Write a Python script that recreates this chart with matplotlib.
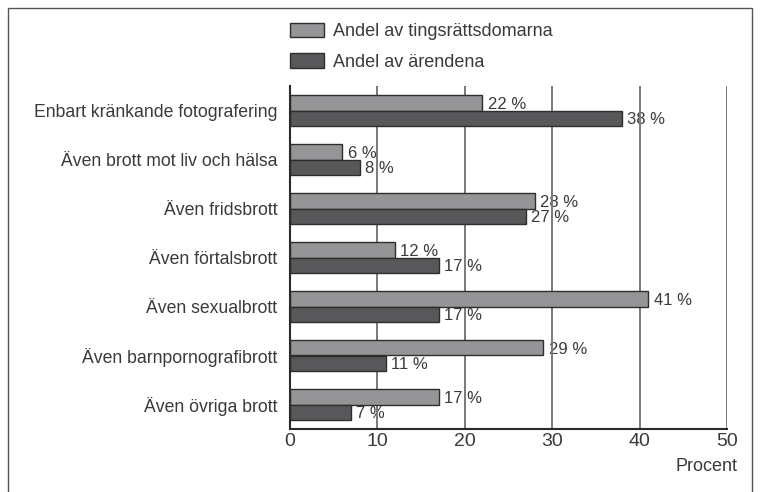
import matplotlib.pyplot as plt
import numpy as np
from matplotlib.patches import Rectangle

plt.rcParams["font.family"] = ["Liberation Sans", "DejaVu Sans"]

categories = [
    "Enbart kränkande fotografering",
    "Även brott mot liv och hälsa",
    "Även fridsbrott",
    "Även förtalsbrott",
    "Även sexualbrott",
    "Även barnpornografibrott",
    "Även övriga brott",
]
domare = [22, 6, 28, 12, 41, 29, 17]
arenden = [38, 8, 27, 17, 17, 11, 7]
series_labels = ["Andel av tingsrättsdomarna", "Andel av ärendena"]
xticks = [0, 10, 20, 30, 40, 50]

light = "#959597"
dark = "#58585b"
edge = "#2e2e2e"
text_col = "#3a3a3a"

fig = plt.figure(figsize=(7.61, 4.92), dpi=100)
ax = fig.add_axes([290 / 761, 1 - 429 / 492, (727 - 290) / 761, (429 - 86) / 492])

y = np.arange(len(categories))
h = 0.31
ax.barh(y - h / 2, domare, h, color=light, edgecolor=edge, linewidth=1,
        label=series_labels[0], zorder=2)
ax.barh(y + h / 2, arenden, h, color=dark, edgecolor=edge, linewidth=1,
        label=series_labels[1], zorder=2)

for i in range(len(categories)):
    ax.text(domare[i] + 0.6, y[i] - h / 2 + 0.03, f"{domare[i]} %", va="center",
            ha="left", fontsize=12, color=text_col, zorder=0.3)
    ax.text(arenden[i] + 0.6, y[i] + h / 2 + 0.03, f"{arenden[i]} %", va="center",
            ha="left", fontsize=12, color=text_col, zorder=0.3)

ax.set_xlim(0, 50)
ax.set_ylim(len(categories) - 0.5, -0.5)
ax.set_xticks(xticks)
ax.set_xticklabels([str(t) for t in xticks], fontsize=14, color=text_col)
ax.set_yticks(y)
ax.set_yticklabels(categories, fontsize=12.7, color=text_col)
ax.tick_params(length=0, pad=9)
ax.tick_params(axis="x", pad=3)

ax.set_axisbelow(True)
ax.grid(axis="x", color="#7a7a7a", linewidth=1.4)
for s in ["top", "right"]:
    ax.spines[s].set_visible(False)
for s in ["left", "bottom"]:
    ax.spines[s].set_color("#2a2a2a")
    ax.spines[s].set_linewidth(1.5)
ax.spines["left"].set_zorder(3)
ax.spines["bottom"].set_zorder(3)

ax.text(1.023, -0.11, "Procent", transform=ax.transAxes, ha="right", va="center",
        fontsize=13, color=text_col)

ax.legend(loc="lower left", bbox_to_anchor=(0.0, 1.045), frameon=False,
          fontsize=13, handlelength=1.9, handleheight=0.85,
          handletextpad=0.5, labelspacing=0.7, borderaxespad=0,
          borderpad=0, labelcolor=text_col)

fig.add_artist(Rectangle((8 / 761, -0.05), (752 - 8) / 761, 1.05 - 8 / 492,
                         transform=fig.transFigure, fill=False,
                         edgecolor="#555555", linewidth=1))

fig.savefig("out.png", dpi=100)
